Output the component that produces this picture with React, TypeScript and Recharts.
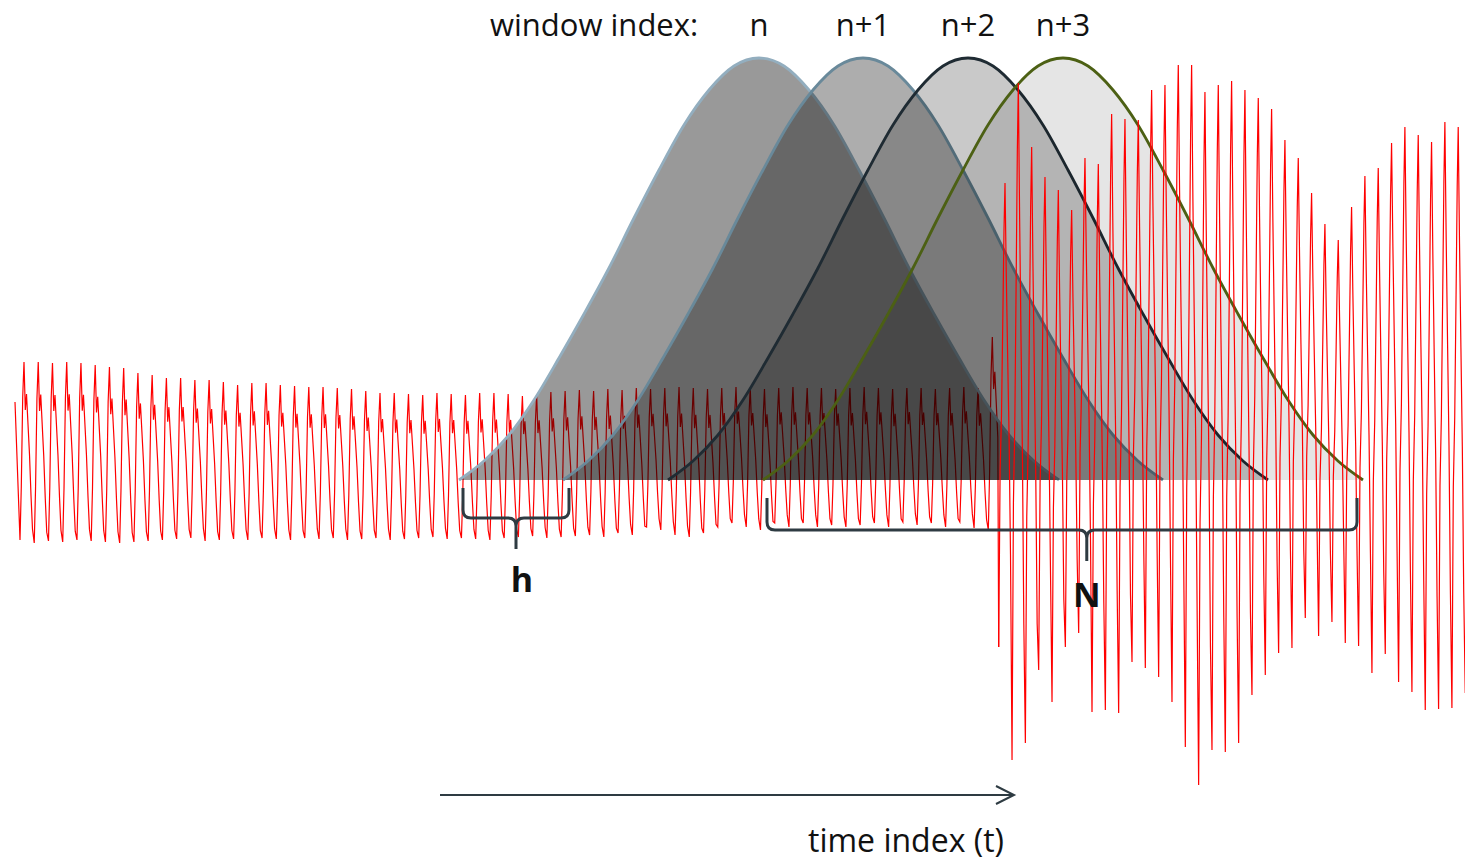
import React from 'react';
import { ComposedChart, Line, Area, XAxis, YAxis } from 'recharts';

const CHART_W = 1465;
const CHART_H = 863;
const T_DOMAIN: [number, number] = [0, 1465];
const A_DOMAIN: [number, number] = [-383, 480];

// quiet part of the signal, drawn under the windows (one peak / trough per cycle)
const leftLead = { t: 15, a: 78 };
const leftFirstTrough = 20;
const leftPeriod = 14.24;
const leftPeaks = [
  118, 118, 117, 118, 117, 115, 113, 112, 107, 105, 102, 102, 100, 100, 98, 95, 97,
  97, 95, 94, 93, 93, 92, 91, 89, 87, 87, 86, 85, 87, 86, 85, 87, 87, 86,
  84, 85, 88, 89, 90, 89, 91, 90, 92, 91, 92, 93, 92, 91, 92, 93, 92, 91, 92, 93,
  92, 92, 91, 92, 93, 92, 91, 92, 92, 91, 92, 93, 92, 143,
];
const leftTroughs = [
  -60, -63, -61, -62, -60, -61, -62, -63, -62, -61, -60, -59, -58, -61, -60, -59, -60,
  -58, -59, -60, -58, -59, -58, -60, -59, -58, -60, -59, -58, -57, -59, -58, -59, -60, -58,
  -57, -56, -58, -57, -56, -55, -57,
  -53, -55, -47, -50, -55, -57, -53, -47, -43, -47, -50, -43, -47, -43, -47, -45, -47,
  -45, -43, -47, -42, -45, -43, -47, -42, -48, -50,
];
// shape of one quiet cycle: time after the trough, share of the trough-to-peak range
const leftCycleT = [0, 1.3, 2.7, 4, 5.3, 6.5, 8, 9.5, 11, 12.5];
const leftCycleF = [0, 0.3, 0.8, 1, 0.73, 0.82, 0.65, 0.48, 0.25, 0.06];

// loud part of the signal, drawn over the windows
const rightFirstTrough = 998.7;
const rightPeriod = 13.33;
const rightPeaks = [
  297, 397, 333, 303, 290, 270, 322, 316, 366, 361, 360, 390, 395, 415, 415, 388, 395, 399,
  390, 382, 371, 340, 322, 287, 256, 240, 273, 304, 312, 337, 353, 345, 338, 358, 353, 350,
];
const rightTroughs = [
  -167, -280, -263, -190, -222, -167, -153, -232, -230, -233, -182, -188, -197, -222, -267, -305, -270, -272,
  -263, -215, -195, -173, -168, -138, -156, -142, -163, -166, -193, -174, -202, -212, -230, -229, -228, -213,
];
const rightCycleT = [0, 1.4, 2.8, 4.2, 5.3, 6.3, 7.6, 9, 10.4, 11.8];
const rightCycleF = [0, 0.38, 0.5, 0.72, 0.9, 1, 0.8, 0.62, 0.45, 0.2];

// analysis window: offset from its centre and height
const winOffsets = [-300, -275, -250, -225, -200, -175, -150, -125, -100, -75, -50, -25, 0, 25, 50, 75, 100, 125, 150, 175, 200, 225, 250, 275, 300];
const winHeights = [0, 19, 45, 80, 122, 166, 212, 262, 310, 355, 390, 414, 422, 414, 390, 355, 310, 262, 212, 166, 122, 80, 45, 19, 0];
const winCenters = [759, 863, 968, 1063];
const winLabels = ['n', 'n+1', 'n+2', 'n+3'];
const winFillOpacity = [0.4, 0.32, 0.21, 0.1];
const winStroke = ['#93aebf', '#69899a', '#1f2b33', '#4c6014'];

type Row = { t: number; [k: string]: number };

function buildRows(): Row[] {
  const rows: Row[] = [];
  rows.push({ t: leftLead.t, sigA: leftLead.a });
  leftPeaks.forEach((p, k) => {
    const tr = leftTroughs[k];
    const t0 = leftFirstTrough + k * leftPeriod;
    leftCycleT.forEach((dt, i) => {
      const t = t0 + dt;
      if (t < rightFirstTrough) rows.push({ t, sigA: tr + leftCycleF[i] * (p - tr) });
    });
  });
  rows.push({ t: rightFirstTrough, sigA: rightTroughs[0] });
  rightPeaks.forEach((p, j) => {
    const tr = rightTroughs[j];
    const t0 = rightFirstTrough + j * rightPeriod;
    rightCycleT.forEach((dt, i) => {
      rows.push({ t: t0 + dt, sigB: tr + rightCycleF[i] * (p - tr) });
    });
  });
  winCenters.forEach((c, w) => {
    winOffsets.forEach((d, i) => {
      rows.push({ t: c + d, ['w' + w]: winHeights[i] });
    });
  });
  return rows.sort((a, b) => a.t - b.t);
}

const rows = buildRows();

// same linear mapping as the chart (no margins, hidden axes)
const px = (t: number) => ((t - T_DOMAIN[0]) / (T_DOMAIN[1] - T_DOMAIN[0])) * CHART_W;
const py = (a: number) => ((A_DOMAIN[1] - a) / (A_DOMAIN[1] - A_DOMAIN[0])) * CHART_H;

function bracePath(x1: number, x2: number, xm: number, yTop: number, yBar: number, yTip: number) {
  const r = 8;
  return [
    `M${x1},${yTop} V${yBar - r} Q${x1},${yBar} ${x1 + r},${yBar} H${xm - r} Q${xm},${yBar} ${xm},${yBar + r} V${yTip}`,
    `M${x2},${yTop} V${yBar - r} Q${x2},${yBar} ${x2 - r},${yBar} H${xm + r} Q${xm},${yBar} ${xm},${yBar + r}`,
  ].join(' ');
}

const INK = '#2e3b42';
const FONT = '"Open Sans", "DejaVu Sans", sans-serif';

export default function App() {
  const base = py(0);
  const hX1 = px(winCenters[0] - 300) + 4;
  const hX2 = px(winCenters[1] - 300) + 6;
  const hXm = (hX1 + hX2) / 2;
  const nX1 = px(winCenters[3] - 300) + 4;
  const nX2 = px(winCenters[3] + 300) - 6;
  const nXm = nX1 + (nX2 - nX1) * 0.542;

  return (
    <div style={{ position: 'absolute', left: 0, top: 0, width: CHART_W, height: CHART_H, background: '#fff' }}>
      <ComposedChart width={CHART_W} height={CHART_H} data={rows} margin={{ top: 0, right: 0, bottom: 0, left: 0 }}>
        <XAxis type="number" dataKey="t" domain={T_DOMAIN} hide allowDataOverflow />
        <YAxis type="number" domain={A_DOMAIN} hide allowDataOverflow />
        <Line
          dataKey="sigA"
          type="linear"
          stroke="#ff0000"
          strokeWidth={1.2}
          dot={false}
          activeDot={false}
          connectNulls
          isAnimationActive={false}
          zIndex={50}
        />
        {winCenters.map((c, w) => (
          <Area
            key={c}
            dataKey={'w' + w}
            type="monotone"
            baseValue={0}
            fill="#000000"
            fillOpacity={winFillOpacity[w]}
            stroke={winStroke[w]}
            strokeWidth={2.8}
            dot={false}
            activeDot={false}
            connectNulls
            isAnimationActive={false}
          />
        ))}
        <Line
          dataKey="sigB"
          type="linear"
          stroke="#ff0000"
          strokeWidth={1.2}
          dot={false}
          activeDot={false}
          connectNulls
          isAnimationActive={false}
          zIndex={450}
        />
      </ComposedChart>
      <svg
        width={CHART_W}
        height={CHART_H}
        style={{ position: 'absolute', left: 0, top: 0, pointerEvents: 'none' }}
      >
        <text x={490} y={36} fontFamily={FONT} fontSize={31} fill="#111">window index:</text>
        {winLabels.map((l, w) => (
          <text key={l} x={px(winCenters[w])} y={36} textAnchor="middle" fontFamily={FONT} fontSize={31} fill="#111">
            {l}
          </text>
        ))}
        <path d={bracePath(hX1, hX2, hXm, base + 8, base + 38, base + 69)} fill="none" stroke={INK} strokeWidth={3} />
        <text x={hXm + 6} y={592} textAnchor="middle" fontFamily={FONT} fontWeight="bold" fontSize={34} fill="#111">h</text>
        <path d={bracePath(nX1, nX2, nXm, base + 18, base + 50, base + 81)} fill="none" stroke={INK} strokeWidth={3} />
        <text x={nXm} y={607} textAnchor="middle" fontFamily={FONT} fontWeight="bold" fontSize={34} fill="#111">N</text>
        <line x1={440} y1={795} x2={1013} y2={795} stroke={INK} strokeWidth={2} />
        <polyline points="996,786 1014,795 996,804" fill="none" stroke={INK} strokeWidth={2} />
        <text x={906} y={852} textAnchor="middle" fontFamily={FONT} fontSize={32} fill="#111">time index (t)</text>
      </svg>
    </div>
  );
}
